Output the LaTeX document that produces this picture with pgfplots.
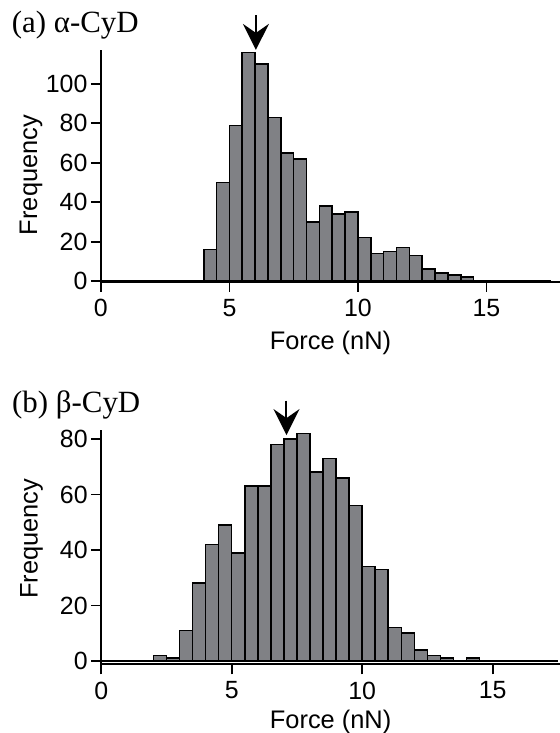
\documentclass[border=0pt]{standalone}
\usepackage{pgfplots}
\pgfplotsset{compat=1.18}
\usepackage{fontspec}
\setmainfont{Liberation Serif}
\setsansfont{Liberation Sans}
\usetikzlibrary{arrows.meta}
\definecolor{barfill}{RGB}{128,129,133}

\pgfplotstableread{
x y
0 0
0.5 0
1 0
1.5 0
2 0
2.5 0
3 0
3.5 0
4 16
4.5 50
5 79
5.5 116
6 110
6.5 83
7 65
7.5 62
8 30
8.5 38
9 34
9.5 35
10 22
10.5 14
11 15
11.5 17
12 13
12.5 6
13 4
13.5 3
14 2
14.5 0
15 0
15.5 0
16 0
16.5 0
17 0
17.5 0
}\dataA

\pgfplotstableread{
x y
0 0
0.5 0
1 0
1.5 0
2 2
2.5 1
3 11
3.5 28
4 42
4.5 49
5 39
5.5 63
6 63
6.5 78
7 80
7.5 82
8 68
8.5 73
9 66
9.5 56
10 34
10.5 33
11 12
11.5 10
12 4
12.5 2
13 1
13.5 0
14 1
14.5 0
15 0
15.5 0
16 0
16.5 0
17 0
17.5 0
}\dataB

\pgfplotsset{
  histstyle/.style={
    scale only axis,
    axis x line=bottom,
    axis y line=left,
    axis line style={-, line width=1.8bp, black},
    tick align=outside,
    major tick length=10bp,
    tick style={line width=1.8bp, black},
    minor tick num=0,
    xtick={0,5,10,15},
    clip=false,
    tick label style={font=\sffamily\fontsize{25}{30}\selectfont},
    xticklabel style={yshift=-4bp},
    label style={font=\sffamily\fontsize{25.5}{30}\selectfont},
    /pgf/number format/assume math mode=true,
    xlabel={Force (nN)},
    ylabel={Frequency},
  }
}

\begin{document}
\begin{tikzpicture}
\useasboundingbox (0,0) rectangle (560bp,733bp);

% Panel (a)
\begin{axis}[histstyle,
  at={(100.9bp,451bp)}, anchor=south west,
  width=459.1bp, height=231.5bp,
  xmin=0, xmax=17.86, ymin=-0.5, ymax=117,
  ytick={0,20,40,60,80,100},
  xlabel style={at={(axis description cs:0.5,0)}, anchor=base, yshift=-68bp},
  ylabel style={at={(axis description cs:-0.152,0.462)}, anchor=center, rotate=0},
]
\addplot[ybar interval, fill=barfill, draw=black, line width=1.6bp] table[x=x,y=y] {\dataA};
\addplot[line width=2bp, -{Stealth[length=26bp,width=26bp,inset=9bp]}] coordinates {(6.03,135) (6.03,117.3)};
\end{axis}
\node[anchor=base west, font=\fontsize{31}{36}\selectfont, inner sep=0pt] at (11.7bp,700.7bp) {(a) α-CyD};

% Panel (b)
\begin{axis}[histstyle,
  at={(101.2bp,68.7bp)}, anchor=south west,
  width=458.8bp, height=234.2bp,
  xmin=0, xmax=17.58, ymin=-1.2, ymax=83.2,
  ytick={0,20,40,60,80},
  xlabel style={at={(axis description cs:0.5,0)}, anchor=base, yshift=-64bp},
  ylabel style={at={(axis description cs:-0.152,0.536)}, anchor=center, rotate=0},
]
\addplot[ybar interval, fill=barfill, draw=black, line width=1.6bp] table[x=x,y=y] {\dataB};
\addplot[line width=2bp, -{Stealth[length=26bp,width=26bp,inset=9bp]}] coordinates {(7.1,93.8) (7.1,81.4)};
\end{axis}
\node[anchor=base west, font=\fontsize{31}{36}\selectfont, inner sep=0pt] at (12bp,320.7bp) {(b) β-CyD};
\end{tikzpicture}
\end{document}
